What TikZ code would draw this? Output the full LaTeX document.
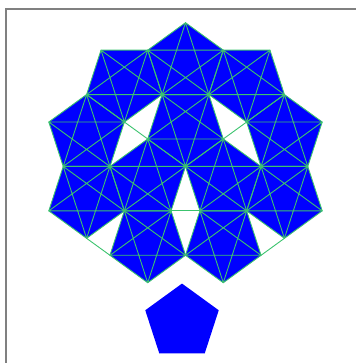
\documentclass[tikz,border=0pt]{standalone}
\usetikzlibrary{calc}
\definecolor{pblue}{RGB}{0,0,255}
\definecolor{pgreen}{RGB}{60,195,110}
\definecolor{framegray}{RGB}{128,128,128}
\newcommand\mkpent[4]{%
  \foreach \k in {1,...,5}{\coordinate (#1-\k) at ($(#2,#3)+({#4+72*(\k-1)}:\R)$);}}
\newcommand\fillpent[1]{\fill[pentfill] (#1-1)--(#1-2)--(#1-3)--(#1-4)--(#1-5)--cycle;}
\newcommand\linepent[1]{%
  \draw[gline] (#1-1)--(#1-2)--(#1-3)--(#1-4)--(#1-5)--cycle;
  \draw[gline] (#1-1)--(#1-3)--(#1-5)--(#1-2)--(#1-4)--cycle;}
\begin{document}
\begin{tikzpicture}[x=1pt,y=1pt,
  pentfill/.style={fill=pblue},
  gline/.style={draw=pgreen,line width=0.9pt,line join=round},
  framestyle/.style={draw=framegray,line width=1.2pt}]
\useasboundingbox (0,0) rectangle (356,363);
\draw[framestyle] (6,0) -- (6,354) -- (356,354);
\begin{scope}[shift={(185.5,340.3)},x=46.7pt,y=46.7pt]
  \def\R{0.8507}
  \mkpent{top}{0}{-0.8507}{90}
  \mkpent{ul}{-1.309}{-1.2763}{-90}
  \mkpent{ur}{1.309}{-1.2763}{-90}
  \mkpent{l}{-2.118}{-2.3895}{90}
  \mkpent{r}{2.118}{-2.3895}{90}
  \mkpent{ll}{-2.118}{-3.7663}{-90}
  \mkpent{lr}{2.118}{-3.7663}{-90}
  \mkpent{cu}{0}{-2.2270}{-90}
  \mkpent{cl}{-0.809}{-3.3407}{90}
  \mkpent{cr}{0.809}{-3.3407}{90}
  \mkpent{bl}{-0.809}{-4.7175}{-90}
  \mkpent{br}{0.809}{-4.7175}{-90}
  \foreach \p in {top,ul,ur,l,r,ll,lr,cu,cl,cr,bl,br}{\fillpent{\p}}
  \foreach \p in {top,ul,ur,l,r,ll,lr,cu,cl,cr,bl,br}{\linepent{\p}}
  \draw[gline] (ul-1) -- (cl-1);
  \draw[gline] (ur-1) -- (cr-1);
  \draw[gline] (cl-4) -- (cr-3);
  \draw[gline] (ll-1) -- (bl-5);
  \draw[gline] (lr-1) -- (br-2);
\end{scope}
\begin{scope}[shift={(182,40.8)},x=45.4pt,y=45.4pt]
  \def\R{0.8507}
  \mkpent{solo}{0}{0}{90}
  \fillpent{solo}
\end{scope}
\end{tikzpicture}
\end{document}
